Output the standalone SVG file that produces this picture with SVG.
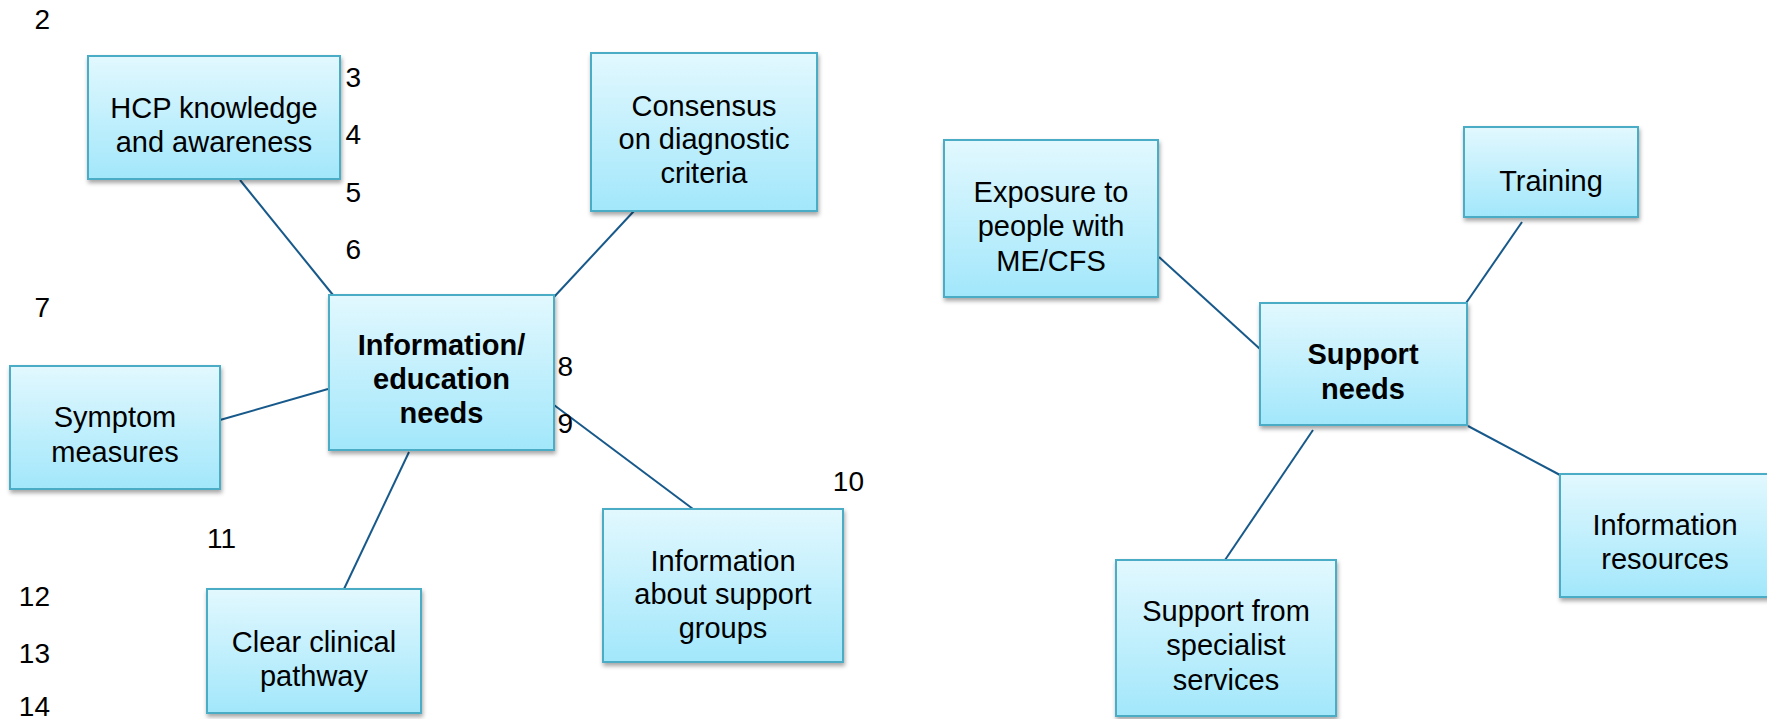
<svg xmlns="http://www.w3.org/2000/svg" width="1767" height="719" viewBox="0 0 1767 719">
<defs>
<linearGradient id="boxGrad" x1="0" y1="0" x2="0" y2="1">
<stop offset="0" stop-color="#E2F8FE"/>
<stop offset="1" stop-color="#A2E7FB"/>
</linearGradient>
<filter id="shadow" x="-10%" y="-10%" width="125%" height="130%">
<feDropShadow dx="1" dy="3" stdDeviation="2" flood-color="#000" flood-opacity="0.35"/>
</filter>
</defs>
<style>
.box{fill:url(#boxGrad);stroke:#4BACC6;stroke-width:2;filter:url(#shadow);}
.lbl{font-family:"Liberation Sans",Arial,sans-serif;font-size:29px;fill:#000;text-anchor:middle;}
.bold{font-weight:bold;}
.num{font-family:"Liberation Sans",Arial,sans-serif;font-size:28px;fill:#000;text-anchor:end;}
.conn{stroke:#17598A;stroke-width:2;fill:none;}
</style>
<rect width="1767" height="719" fill="#fff"/>
<g id="connectors">
<line class="conn" x1="240" y1="180" x2="333" y2="295"/>
<line class="conn" x1="634" y1="211" x2="554" y2="297"/>
<line class="conn" x1="220" y1="420" x2="328" y2="389"/>
<line class="conn" x1="409" y1="452" x2="344" y2="589"/>
<line class="conn" x1="554" y1="405" x2="693" y2="509"/>
<line class="conn" x1="1159" y1="257" x2="1260" y2="349"/>
<line class="conn" x1="1522" y1="222" x2="1464" y2="306"/>
<line class="conn" x1="1468" y1="426" x2="1560" y2="475"/>
<line class="conn" x1="1313" y1="430" x2="1225" y2="560"/>
</g>
<g id="node-hcp">
<rect class="box" x="88" y="56" width="252" height="123"/>
<text class="lbl" x="214" y="118">HCP knowledge</text>
<text class="lbl" x="214" y="152">and awareness</text>
</g>
<g id="node-consensus">
<rect class="box" x="591" y="53" width="226" height="158"/>
<text class="lbl" x="704" y="116">Consensus</text>
<text class="lbl" x="704" y="149">on diagnostic</text>
<text class="lbl" x="704" y="183">criteria</text>
</g>
<g id="node-info-education">
<rect class="box" x="329" y="295" width="225" height="155"/>
<text class="lbl bold" x="441.5" y="355">Information/</text>
<text class="lbl bold" x="441.5" y="389">education</text>
<text class="lbl bold" x="441.5" y="423">needs</text>
</g>
<g id="node-symptom">
<rect class="box" x="10" y="366" width="210" height="123"/>
<text class="lbl" x="115" y="427">Symptom</text>
<text class="lbl" x="115" y="462">measures</text>
</g>
<g id="node-clinical">
<rect class="box" x="207" y="589" width="214" height="124"/>
<text class="lbl" x="314" y="652">Clear clinical</text>
<text class="lbl" x="314" y="686">pathway</text>
</g>
<g id="node-support-groups">
<rect class="box" x="603" y="509" width="240" height="153"/>
<text class="lbl" x="723" y="571">Information</text>
<text class="lbl" x="723" y="604">about support</text>
<text class="lbl" x="723" y="638">groups</text>
</g>
<g id="node-exposure">
<rect class="box" x="944" y="140" width="214" height="157"/>
<text class="lbl" x="1051" y="202">Exposure to</text>
<text class="lbl" x="1051" y="236">people with</text>
<text class="lbl" x="1051" y="271">ME/CFS</text>
</g>
<g id="node-training">
<rect class="box" x="1464" y="127" width="174" height="90"/>
<text class="lbl" x="1551" y="191">Training</text>
</g>
<g id="node-support-needs">
<rect class="box" x="1260" y="303" width="207" height="122"/>
<text class="lbl bold" x="1363" y="364">Support</text>
<text class="lbl bold" x="1363" y="399">needs</text>
</g>
<g id="node-info-resources">
<rect class="box" x="1560" y="474" width="212" height="123"/>
<text class="lbl" x="1665" y="535">Information</text>
<text class="lbl" x="1665" y="569">resources</text>
</g>
<g id="node-specialist">
<rect class="box" x="1116" y="560" width="220" height="156"/>
<text class="lbl" x="1226" y="621">Support from</text>
<text class="lbl" x="1226" y="655">specialist</text>
<text class="lbl" x="1226" y="690">services</text>
</g>
<g id="line-numbers">
<text class="num" x="50" y="29">2</text>
<text class="num" x="361" y="87">3</text>
<text class="num" x="361" y="144">4</text>
<text class="num" x="361" y="202">5</text>
<text class="num" x="361" y="259">6</text>
<text class="num" x="50" y="317">7</text>
<text class="num" x="573" y="376">8</text>
<text class="num" x="573" y="433">9</text>
<text class="num" x="864" y="491">10</text>
<text class="num" x="236" y="548">11</text>
<text class="num" x="50" y="606">12</text>
<text class="num" x="50" y="663">13</text>
<text class="num" x="50" y="716">14</text>
</g>
</svg>
